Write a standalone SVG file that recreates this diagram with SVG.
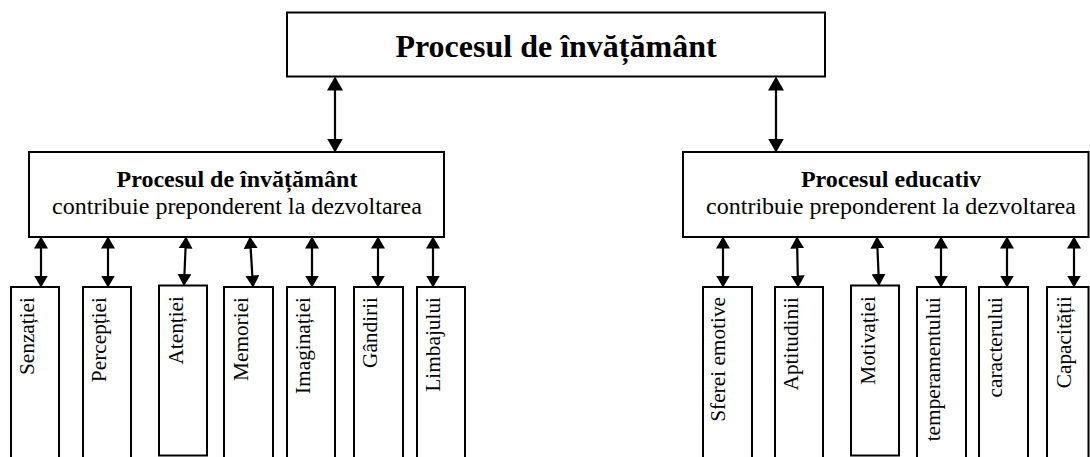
<svg xmlns="http://www.w3.org/2000/svg" width="1090" height="457" viewBox="0 0 1090 457">
  <defs>
    <style>
      .box { fill: #ffffff; stroke: #000000; stroke-width: 2; }
      .link { stroke: #000000; stroke-width: 2.2; fill: none; }
      .big { marker-start: url(#headBig); marker-end: url(#headBig); }
      .small { marker-start: url(#headSmall); marker-end: url(#headSmall); }
      .title { font-family: "Liberation Serif", "Times New Roman", serif; font-weight: bold; font-size: 32px; text-anchor: middle; fill: #000; }
      .head { font-family: "Liberation Serif", "Times New Roman", serif; font-weight: bold; font-size: 24px; text-anchor: middle; fill: #000; }
      .sub { font-family: "Liberation Serif", "Times New Roman", serif; font-size: 24px; text-anchor: middle; fill: #000; }
      .leaf { font-family: "Liberation Serif", "Times New Roman", serif; font-size: 21.3px; text-anchor: end; fill: #000; }
    </style>
    <marker id="headBig" viewBox="0 0 14 16" refX="12.5" refY="8" markerWidth="14" markerHeight="16" markerUnits="userSpaceOnUse" orient="auto-start-reverse">
      <path d="M0,0 L14,8 L0,16 z" fill="#000"/>
    </marker>
    <marker id="headSmall" viewBox="0 0 12 14" refX="10.5" refY="7" markerWidth="12" markerHeight="14" markerUnits="userSpaceOnUse" orient="auto-start-reverse">
      <path d="M0,0 L12,7 L0,14 z" fill="#000"/>
    </marker>
  </defs>

  <rect width="1090" height="457" fill="#ffffff"/>

  <!-- top node -->
  <g id="node-root">
    <rect class="box" x="287" y="12.5" width="538" height="64"/>
    <text class="title" x="556" y="57">Procesul de învățământ</text>
  </g>

  <!-- second level -->
  <g id="node-invatamant">
    <rect class="box" x="29" y="152" width="415" height="85"/>
    <text class="head" x="237" y="187">Procesul de învățământ</text>
    <text class="sub" x="237" y="214">contribuie preponderent la dezvoltarea</text>
  </g>
  <g id="node-educativ">
    <rect class="box" x="683" y="152" width="405.5" height="85"/>
    <text class="head" x="891" y="187">Procesul educativ</text>
    <text class="sub" x="891" y="214">contribuie preponderent la dezvoltarea</text>
  </g>

  <!-- leaves under "Procesul de învățământ" -->
  <g id="leaf-senzatiei">
    <rect class="box" x="11" y="287" width="48" height="180"/>
    <text class="leaf" transform="translate(34,297) rotate(-90)">Senzației</text>
  </g>
  <g id="leaf-perceptiei">
    <rect class="box" x="83" y="287" width="48" height="180"/>
    <text class="leaf" transform="translate(106,297) rotate(-90)">Percepției</text>
  </g>
  <g id="leaf-atentiei">
    <rect class="box" x="159" y="285.5" width="48" height="170"/>
    <text class="leaf" transform="translate(183,296) rotate(-90)">Atenției</text>
  </g>
  <g id="leaf-memoriei">
    <rect class="box" x="224" y="287" width="49" height="180"/>
    <text class="leaf" transform="translate(248,297) rotate(-90)">Memoriei</text>
  </g>
  <g id="leaf-imaginatiei">
    <rect class="box" x="287" y="287" width="48" height="180"/>
    <text class="leaf" transform="translate(310,297) rotate(-90)">Imaginației</text>
  </g>
  <g id="leaf-gandirii">
    <rect class="box" x="354" y="287" width="49" height="180"/>
    <text class="leaf" transform="translate(377,297) rotate(-90)">Gândirii</text>
  </g>
  <g id="leaf-limbajului">
    <rect class="box" x="417" y="287" width="48" height="180"/>
    <text class="leaf" transform="translate(440,297) rotate(-90)">Limbajului</text>
  </g>

  <!-- leaves under "Procesul educativ" -->
  <g id="leaf-sferei">
    <rect class="box" x="703" y="287" width="49" height="180"/>
    <text class="leaf" transform="translate(725,297) rotate(-90)">Sferei emotive</text>
  </g>
  <g id="leaf-aptitudinii">
    <rect class="box" x="775" y="287" width="48" height="180"/>
    <text class="leaf" transform="translate(798,297) rotate(-90)">Aptitudinii</text>
  </g>
  <g id="leaf-motivatiei">
    <rect class="box" x="851" y="285.5" width="48" height="170"/>
    <text class="leaf" transform="translate(875,296) rotate(-90)">Motivației</text>
  </g>
  <g id="leaf-temperamentului">
    <rect class="box" x="917" y="287" width="49" height="180"/>
    <text class="leaf" transform="translate(940,297) rotate(-90)">temperamentului</text>
  </g>
  <g id="leaf-caracterului">
    <rect class="box" x="979" y="287" width="49" height="180"/>
    <text class="leaf" transform="translate(1002,297) rotate(-90)">caracterului</text>
  </g>
  <g id="leaf-capacitatii">
    <rect class="box" x="1047" y="287" width="41.5" height="180"/>
    <text class="leaf" transform="translate(1071,296) rotate(-90)">Capacității</text>
  </g>

  <!-- connectors -->
  <g id="connectors">
    <line class="link big" x1="335" y1="78" x2="335" y2="151"/>
    <line class="link big" x1="776" y1="78" x2="776" y2="151"/>

    <line class="link small" x1="41" y1="238" x2="41" y2="286"/>
    <line class="link small" x1="108" y1="238" x2="108" y2="286"/>
    <line class="link small" x1="186" y1="238" x2="184" y2="284.5"/>
    <line class="link small" x1="250" y1="238" x2="253" y2="286"/>
    <line class="link small" x1="312" y1="238" x2="312" y2="286"/>
    <line class="link small" x1="378" y1="238" x2="378" y2="286"/>
    <line class="link small" x1="433" y1="238" x2="433" y2="286"/>

    <line class="link small" x1="723" y1="238" x2="723" y2="286"/>
    <line class="link small" x1="797" y1="238" x2="798" y2="286"/>
    <line class="link small" x1="877" y1="238" x2="879" y2="284.5"/>
    <line class="link small" x1="941" y1="238" x2="941" y2="286"/>
    <line class="link small" x1="1007" y1="238" x2="1007" y2="286"/>
    <line class="link small" x1="1074" y1="238" x2="1074" y2="286"/>
  </g>
</svg>
